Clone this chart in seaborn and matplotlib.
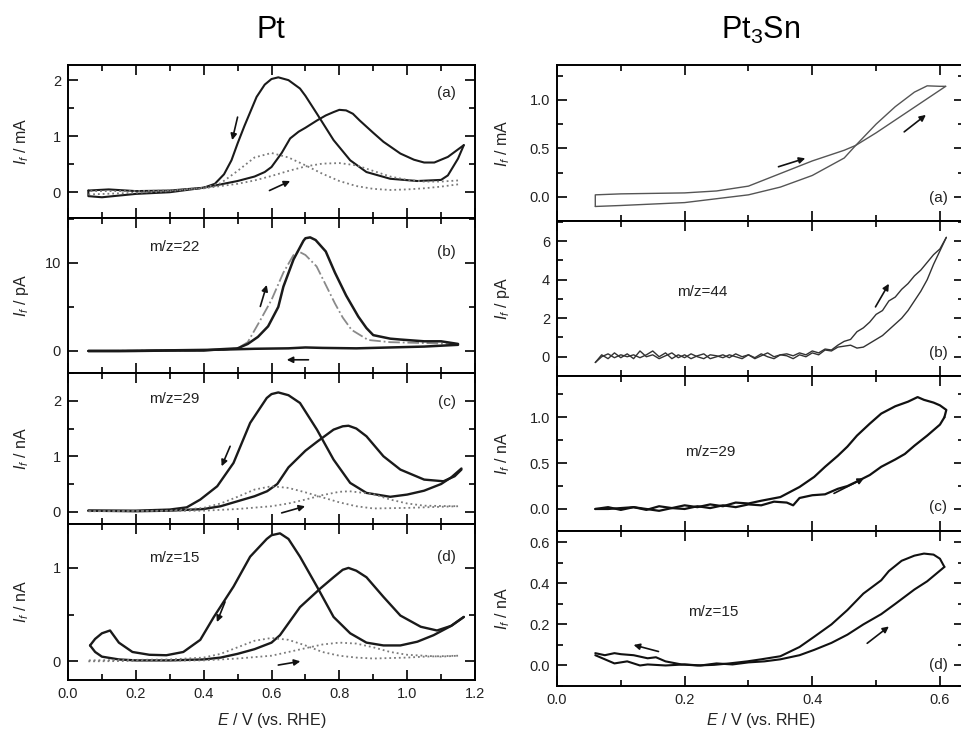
import numpy as np
import matplotlib
matplotlib.use("Agg")
import matplotlib.pyplot as plt
from matplotlib.ticker import MultipleLocator, FormatStrFormatter
import seaborn as sns

sns.set_theme(style="ticks")
plt.rcParams['font.family'] = ['Liberation Sans', 'DejaVu Sans']
plt.rcParams['mathtext.fontset'] = 'custom'
plt.rcParams['mathtext.rm'] = 'Liberation Sans'
plt.rcParams['mathtext.it'] = 'Liberation Sans:italic'

# ---------------- Pt (left column) ----------------
# (a) Faradaic current, mA
La_fwd_E = [0.06, 0.06, 0.10, 0.15, 0.20, 0.30, 0.40, 0.50, 0.55, 0.58, 0.60, 0.63, 0.655, 0.68, 0.70, 0.734, 0.76, 0.783, 0.80, 0.82, 0.84, 0.86, 0.90, 0.93, 0.98, 1.02, 1.05, 1.08, 1.12, 1.167]
La_fwd_I = [0.03, -0.07, -0.09, -0.06, -0.03, 0.00, 0.08, 0.20, 0.28, 0.36, 0.45, 0.70, 0.96, 1.08, 1.15, 1.28, 1.37, 1.43, 1.47, 1.46, 1.40, 1.28, 1.06, 0.90, 0.69, 0.58, 0.53, 0.53, 0.63, 0.84]
La_bwd_E = [1.167, 1.15, 1.12, 1.10, 1.03, 0.95, 0.88, 0.832, 0.783, 0.734, 0.70, 0.684, 0.65, 0.62, 0.60, 0.58, 0.556, 0.52, 0.50, 0.482, 0.46, 0.433, 0.40, 0.30, 0.20, 0.12, 0.06]
La_bwd_I = [0.84, 0.60, 0.30, 0.22, 0.20, 0.24, 0.36, 0.57, 0.93, 1.40, 1.72, 1.85, 2.00, 2.05, 2.02, 1.92, 1.70, 1.18, 0.87, 0.57, 0.32, 0.15, 0.08, 0.03, 0.02, 0.05, 0.03]
La_dfwd_E = [0.06, 0.20, 0.30, 0.40, 0.50, 0.55, 0.60, 0.65, 0.70, 0.75, 0.80, 0.85, 0.90, 0.95, 1.00, 1.05, 1.10, 1.15]
La_dfwd_I = [-0.04, -0.01, 0.02, 0.07, 0.15, 0.21, 0.29, 0.38, 0.46, 0.51, 0.52, 0.48, 0.38, 0.28, 0.22, 0.19, 0.19, 0.21]
La_dbwd_E = [1.15, 1.10, 1.05, 1.00, 0.95, 0.90, 0.85, 0.80, 0.75, 0.70, 0.65, 0.60, 0.55, 0.50, 0.45, 0.40, 0.30, 0.20, 0.06]
La_dbwd_I = [0.14, 0.10, 0.07, 0.05, 0.04, 0.06, 0.11, 0.20, 0.33, 0.48, 0.62, 0.70, 0.62, 0.38, 0.16, 0.08, 0.03, 0.02, 0.02]

# (b) m/z=22, pA
Lb_fwd_E = [0.06, 0.20, 0.30, 0.40, 0.45, 0.50, 0.53, 0.56, 0.59, 0.62, 0.635, 0.665, 0.694, 0.70, 0.714, 0.73, 0.76, 0.787, 0.82, 0.856, 0.88, 0.90, 0.95, 0.98, 1.05, 1.10, 1.15]
Lb_fwd_I = [0.0, 0.0, 0.05, 0.05, 0.2, 0.3, 0.8, 1.6, 2.8, 5.0, 7.3, 10.4, 12.5, 12.8, 12.9, 12.6, 11.3, 8.9, 6.3, 3.9, 2.6, 1.8, 1.4, 1.3, 1.1, 1.1, 0.8]
Lb_dfwd_E = [0.06, 0.30, 0.45, 0.50, 0.53, 0.567, 0.60, 0.635, 0.665, 0.68, 0.70, 0.733, 0.76, 0.787, 0.81, 0.836, 0.885, 0.95, 1.05, 1.15]
Lb_dfwd_I = [0.0, 0.05, 0.1, 0.3, 1.0, 3.5, 5.8, 8.9, 10.9, 11.3, 10.9, 9.6, 7.5, 5.4, 3.8, 2.4, 1.25, 1.0, 0.9, 0.8]
Lb_bwd_E = [1.15, 1.05, 0.95, 0.85, 0.75, 0.70, 0.65, 0.55, 0.45, 0.35, 0.25, 0.15, 0.06]
Lb_bwd_I = [0.7, 0.5, 0.4, 0.3, 0.35, 0.4, 0.3, 0.25, 0.15, 0.1, 0.05, 0.0, 0.0]

# (c) m/z=29, nA
Lc_fwd_E = [0.06, 0.20, 0.30, 0.40, 0.45, 0.50, 0.55, 0.587, 0.617, 0.65, 0.70, 0.734, 0.783, 0.81, 0.827, 0.85, 0.88, 0.93, 0.98, 1.05, 1.107, 1.14, 1.16]
Lc_fwd_I = [0.02, 0.01, 0.02, 0.05, 0.10, 0.19, 0.28, 0.37, 0.50, 0.80, 1.10, 1.26, 1.48, 1.54, 1.55, 1.50, 1.36, 1.00, 0.76, 0.58, 0.55, 0.64, 0.76]
Lc_bwd_E = [1.16, 1.13, 1.10, 1.05, 1.00, 0.95, 0.88, 0.832, 0.783, 0.734, 0.684, 0.65, 0.62, 0.60, 0.586, 0.537, 0.488, 0.44, 0.39, 0.35, 0.30, 0.20, 0.06]
Lc_bwd_I = [0.78, 0.62, 0.50, 0.38, 0.31, 0.27, 0.34, 0.52, 0.94, 1.48, 1.96, 2.10, 2.15, 2.12, 2.05, 1.60, 0.88, 0.46, 0.22, 0.08, 0.04, 0.02, 0.02]
Lc_dfwd_E = [0.06, 0.40, 0.50, 0.60, 0.65, 0.70, 0.75, 0.80, 0.83, 0.90, 0.95, 1.00, 1.05, 1.15]
Lc_dfwd_I = [0.01, 0.02, 0.05, 0.10, 0.15, 0.22, 0.30, 0.36, 0.37, 0.32, 0.22, 0.15, 0.11, 0.10]
Lc_dbwd_E = [1.15, 1.05, 1.00, 0.90, 0.85, 0.80, 0.75, 0.70, 0.65, 0.60, 0.55, 0.50, 0.45, 0.40, 0.30, 0.06]
Lc_dbwd_I = [0.10, 0.08, 0.07, 0.06, 0.10, 0.17, 0.26, 0.35, 0.43, 0.46, 0.40, 0.27, 0.15, 0.07, 0.02, 0.01]

# (d) m/z=15, nA
Ld_fwd_E = [0.065, 0.08, 0.10, 0.15, 0.20, 0.30, 0.40, 0.45, 0.50, 0.55, 0.60, 0.625, 0.684, 0.744, 0.783, 0.81, 0.827, 0.85, 0.88, 0.93, 0.98, 1.04, 1.088, 1.13, 1.167]
Ld_fwd_I = [0.17, 0.10, 0.05, 0.02, 0.01, 0.01, 0.02, 0.04, 0.08, 0.13, 0.20, 0.28, 0.58, 0.78, 0.90, 0.98, 1.00, 0.97, 0.90, 0.69, 0.49, 0.37, 0.33, 0.38, 0.475]
Ld_bwd_E = [1.167, 1.13, 1.078, 1.03, 0.98, 0.93, 0.88, 0.832, 0.783, 0.734, 0.684, 0.65, 0.625, 0.60, 0.586, 0.537, 0.488, 0.43, 0.39, 0.34, 0.29, 0.24, 0.19, 0.15, 0.124, 0.10, 0.08, 0.065]
Ld_bwd_I = [0.475, 0.38, 0.28, 0.21, 0.17, 0.17, 0.20, 0.30, 0.475, 0.80, 1.12, 1.31, 1.37, 1.35, 1.31, 1.12, 0.80, 0.475, 0.23, 0.10, 0.065, 0.07, 0.10, 0.20, 0.33, 0.30, 0.24, 0.17]
Ld_dfwd_E = [0.06, 0.40, 0.50, 0.60, 0.65, 0.70, 0.75, 0.80, 0.85, 0.90, 0.95, 1.00, 1.10, 1.15]
Ld_dfwd_I = [0.00, 0.01, 0.03, 0.06, 0.10, 0.14, 0.18, 0.20, 0.19, 0.15, 0.10, 0.07, 0.05, 0.06]
Ld_dbwd_E = [1.15, 1.05, 1.00, 0.90, 0.85, 0.80, 0.75, 0.70, 0.65, 0.60, 0.55, 0.50, 0.45, 0.40, 0.30, 0.06]
Ld_dbwd_I = [0.06, 0.05, 0.04, 0.03, 0.04, 0.06, 0.10, 0.17, 0.23, 0.25, 0.22, 0.15, 0.08, 0.04, 0.02, 0.01]

# ---------------- Pt3Sn (right column) ----------------
Ra_fwd_E = [0.06, 0.06, 0.10, 0.20, 0.25, 0.30, 0.35, 0.40, 0.45, 0.468, 0.50, 0.55, 0.609]
Ra_fwd_I = [-0.10, 0.02, 0.03, 0.04, 0.06, 0.11, 0.24, 0.37, 0.48, 0.53, 0.66, 0.88, 1.14]
Ra_bwd_E = [0.609, 0.60, 0.58, 0.56, 0.53, 0.50, 0.468, 0.45, 0.40, 0.35, 0.30, 0.20, 0.10, 0.06]
Ra_bwd_I = [1.14, 1.14, 1.145, 1.08, 0.93, 0.75, 0.53, 0.40, 0.22, 0.10, 0.02, -0.06, -0.09, -0.10]

Rb_fwd_E = [0.06, 0.07, 0.08, 0.09, 0.10, 0.11, 0.12, 0.13, 0.14, 0.15, 0.16, 0.17, 0.18, 0.19, 0.20, 0.21, 0.22, 0.23, 0.24, 0.25, 0.26, 0.27, 0.28, 0.29, 0.30, 0.31, 0.32, 0.33, 0.34, 0.35, 0.36, 0.37, 0.38, 0.39, 0.40, 0.41, 0.42, 0.43, 0.44, 0.45, 0.46, 0.47, 0.48, 0.49, 0.50, 0.51, 0.52, 0.53, 0.54, 0.55, 0.56, 0.57, 0.58, 0.59, 0.60, 0.61]
Rb_fwd_I = [-0.3, 0.1, -0.1, 0.2, -0.05, 0.15, -0.1, 0.3, 0.0, 0.1, -0.1, 0.05, 0.2, -0.05, 0.1, -0.1, 0.05, 0.15, -0.1, 0.0, 0.1, -0.05, 0.15, 0.0, 0.1, -0.1, 0.05, 0.2, 0.0, 0.1, 0.15, 0.05, 0.2, 0.1, 0.3, 0.2, 0.4, 0.35, 0.6, 0.8, 0.9, 1.3, 1.5, 1.8, 2.2, 2.4, 2.9, 3.1, 3.5, 3.8, 4.2, 4.5, 4.9, 5.3, 5.6, 6.2]
Rb_bwd_E = [0.61, 0.60, 0.59, 0.58, 0.57, 0.56, 0.55, 0.54, 0.53, 0.52, 0.51, 0.50, 0.49, 0.48, 0.47, 0.46, 0.45, 0.44, 0.43, 0.42, 0.41, 0.40, 0.39, 0.38, 0.37, 0.36, 0.35, 0.34, 0.33, 0.32, 0.31, 0.30, 0.29, 0.28, 0.27, 0.26, 0.25, 0.24, 0.23, 0.22, 0.21, 0.20, 0.19, 0.18, 0.17, 0.16, 0.15, 0.14, 0.13, 0.12, 0.11, 0.10, 0.09, 0.08, 0.07, 0.06]
Rb_bwd_I = [6.2, 5.5, 4.8, 4.0, 3.4, 2.9, 2.4, 2.0, 1.7, 1.4, 1.1, 0.9, 0.7, 0.5, 0.45, 0.6, 0.55, 0.5, 0.3, 0.35, 0.1, 0.2, 0.0, 0.1, -0.1, 0.05, 0.1, -0.1, 0.0, 0.15, -0.05, 0.1, -0.1, 0.0, 0.1, -0.05, 0.05, 0.1, -0.1, 0.0, 0.15, -0.05, 0.1, -0.1, 0.2, 0.0, 0.3, 0.1, -0.05, 0.1, 0.0, 0.1, -0.05, 0.15, 0.0, -0.3]

Rc_fwd_E = [0.06, 0.08, 0.10, 0.12, 0.14, 0.16, 0.18, 0.20, 0.22, 0.24, 0.26, 0.28, 0.30, 0.32, 0.34, 0.36, 0.37, 0.38, 0.40, 0.42, 0.44, 0.455, 0.47, 0.49, 0.508, 0.53, 0.545, 0.56, 0.58, 0.60, 0.607]
Rc_fwd_I = [0.00, 0.02, -0.01, 0.02, 0.00, -0.02, 0.01, 0.00, 0.03, 0.01, 0.04, 0.02, 0.05, 0.04, 0.08, 0.07, 0.04, 0.12, 0.15, 0.16, 0.22, 0.25, 0.30, 0.37, 0.46, 0.54, 0.60, 0.69, 0.80, 0.92, 1.00]
Rc_bwd_E = [0.607, 0.61, 0.60, 0.59, 0.575, 0.565, 0.55, 0.53, 0.508, 0.49, 0.47, 0.455, 0.44, 0.42, 0.403, 0.38, 0.35, 0.32, 0.30, 0.28, 0.26, 0.24, 0.22, 0.20, 0.18, 0.16, 0.14, 0.12, 0.10, 0.08, 0.06]
Rc_bwd_I = [1.00, 1.08, 1.13, 1.16, 1.19, 1.22, 1.17, 1.12, 1.04, 0.93, 0.80, 0.68, 0.58, 0.46, 0.35, 0.24, 0.13, 0.09, 0.06, 0.07, 0.03, 0.05, 0.02, 0.04, 0.01, 0.03, -0.01, 0.02, 0.01, 0.00, 0.00]

Rd_fwd_E = [0.06, 0.075, 0.09, 0.11, 0.13, 0.142, 0.17, 0.20, 0.225, 0.25, 0.275, 0.30, 0.325, 0.35, 0.38, 0.403, 0.43, 0.455, 0.48, 0.508, 0.53, 0.56, 0.58, 0.607]
Rd_fwd_I = [0.05, 0.03, 0.01, 0.02, 0.0, 0.005, 0.0, 0.005, 0.0, 0.01, 0.005, 0.015, 0.02, 0.03, 0.05, 0.076, 0.11, 0.15, 0.20, 0.25, 0.30, 0.37, 0.41, 0.48]
Rd_bwd_E = [0.607, 0.60, 0.59, 0.575, 0.56, 0.54, 0.52, 0.508, 0.48, 0.455, 0.43, 0.403, 0.38, 0.35, 0.32, 0.298, 0.27, 0.246, 0.22, 0.195, 0.17, 0.155, 0.142, 0.12, 0.10, 0.09, 0.075, 0.06]
Rd_bwd_I = [0.48, 0.52, 0.54, 0.545, 0.535, 0.51, 0.46, 0.415, 0.35, 0.27, 0.20, 0.14, 0.09, 0.045, 0.03, 0.02, 0.01, 0.003, 0.0, 0.005, 0.02, 0.04, 0.035, 0.05, 0.055, 0.06, 0.05, 0.06]

# ---------------- layout ----------------
W, H = 961, 735
fig = plt.figure(figsize=(W / 100, H / 100), dpi=100)

def add_ax(x0, x1, ytop, ybot):
    return fig.add_axes([x0 / W, 1 - ybot / H, (x1 - x0) / W, (ybot - ytop) / H])

left_bounds = [65, 218, 373, 524, 680]
right_bounds = [65, 221, 376, 531, 686]
L = [add_ax(68, 475, left_bounds[i], left_bounds[i + 1]) for i in range(4)]
R = [add_ax(557, 964, right_bounds[i], right_bounds[i + 1]) for i in range(4)]

SOLID = dict(color='#1a1a1a', linewidth=1.5)
DOT = dict(color='#7a7a7a', linewidth=1.3, linestyle=':')

def draw(ax, E, I, **kw):
    sns.lineplot(x=E, y=I, ax=ax, sort=False, estimator=None, **kw)

# Left panels
draw(L[0], La_fwd_E, La_fwd_I, **SOLID)
draw(L[0], La_bwd_E, La_bwd_I, **SOLID)
draw(L[0], La_dfwd_E, La_dfwd_I, **DOT)
draw(L[0], La_dbwd_E, La_dbwd_I, **DOT)

draw(L[1], Lb_dfwd_E, Lb_dfwd_I, color='#8a8a8a', linewidth=1.3, linestyle='-.')
draw(L[1], Lb_fwd_E, Lb_fwd_I, color='#1a1a1a', linewidth=1.8)
draw(L[1], Lb_bwd_E, Lb_bwd_I, color='#1a1a1a', linewidth=1.8)

draw(L[2], Lc_fwd_E, Lc_fwd_I, color='#1a1a1a', linewidth=1.7)
draw(L[2], Lc_bwd_E, Lc_bwd_I, color='#1a1a1a', linewidth=1.7)
draw(L[2], Lc_dfwd_E, Lc_dfwd_I, **DOT)
draw(L[2], Lc_dbwd_E, Lc_dbwd_I, **DOT)

draw(L[3], Ld_fwd_E, Ld_fwd_I, color='#1a1a1a', linewidth=1.7)
draw(L[3], Ld_bwd_E, Ld_bwd_I, color='#1a1a1a', linewidth=1.7)
draw(L[3], Ld_dfwd_E, Ld_dfwd_I, **DOT)
draw(L[3], Ld_dbwd_E, Ld_dbwd_I, **DOT)

# Right panels
draw(R[0], Ra_fwd_E, Ra_fwd_I, color='#555555', linewidth=1.0)
draw(R[0], Ra_bwd_E, Ra_bwd_I, color='#555555', linewidth=1.0)
draw(R[1], Rb_fwd_E, Rb_fwd_I, color='#333333', linewidth=1.0)
draw(R[1], Rb_bwd_E, Rb_bwd_I, color='#333333', linewidth=1.0)
draw(R[2], Rc_fwd_E, Rc_fwd_I, color='#111111', linewidth=1.6)
draw(R[2], Rc_bwd_E, Rc_bwd_I, color='#111111', linewidth=1.6)
draw(R[3], Rd_fwd_E, Rd_fwd_I, color='#111111', linewidth=1.5)
draw(R[3], Rd_bwd_E, Rd_bwd_I, color='#111111', linewidth=1.5)

# Axis settings
left_ylim = [(-0.46, 2.27), (-2.5, 15.1), (-0.22, 2.5), (-0.2, 1.47)]
left_major = [1, 10, 1, 1]
left_minor = [0.5, 5, 0.5, 0.5]
left_units = ['mA', 'pA', 'nA', 'nA']
right_ylim = [(-0.25, 1.36), (-1.0, 7.05), (-0.24, 1.45), (-0.1, 0.655)]
right_major = [0.5, 2, 0.5, 0.2]
right_minor = [0.25, 1, 0.25, 0.1]
right_fmt = ['%.1f', '%d', '%.1f', '%.1f']
right_units = ['mA', 'pA', 'nA', 'nA']

def style(ax):
    for s in ax.spines.values():
        s.set_linewidth(1.4)
        s.set_color('black')
    ax.tick_params(which='both', direction='in', top=True, right=True, colors='black',
                   labelsize=10.5, width=1.2, labelcolor='#222222')
    ax.tick_params(which='major', length=7, pad=5)
    ax.tick_params(which='minor', length=4)
    ax.set_xlabel('')
    ax.set_ylabel('')

for i, ax in enumerate(L):
    style(ax)
    ax.set_xlim(0, 1.2)
    ax.set_ylim(*left_ylim[i])
    ax.xaxis.set_major_locator(MultipleLocator(0.2))
    ax.xaxis.set_minor_locator(MultipleLocator(0.1))
    ax.xaxis.set_major_formatter(FormatStrFormatter('%.1f'))
    ax.yaxis.set_major_locator(MultipleLocator(left_major[i]))
    ax.yaxis.set_minor_locator(MultipleLocator(left_minor[i]))
    ax.yaxis.set_major_formatter(FormatStrFormatter('%d'))
    ax.set_ylabel(r'$I_f$ / ' + left_units[i], fontsize=11.5, color='#222222')
    ax.yaxis.set_label_coords(-0.092, 0.5)
    if i < 3:
        ax.tick_params(labelbottom=False)

for i, ax in enumerate(R):
    style(ax)
    ax.set_xlim(0, 0.6377)
    ax.set_ylim(*right_ylim[i])
    ax.xaxis.set_major_locator(MultipleLocator(0.2))
    ax.xaxis.set_minor_locator(MultipleLocator(0.1))
    ax.xaxis.set_major_formatter(FormatStrFormatter('%.1f'))
    ax.yaxis.set_major_locator(MultipleLocator(right_major[i]))
    ax.yaxis.set_minor_locator(MultipleLocator(right_minor[i]))
    ax.yaxis.set_major_formatter(FormatStrFormatter(right_fmt[i]))
    ax.set_ylabel(r'$I_f$ / ' + right_units[i], fontsize=11.5, color='#222222')
    ax.yaxis.set_label_coords(-0.11, 0.5)
    if i < 3:
        ax.tick_params(labelbottom=False)

L[3].set_xlabel(r'$E$ / V (vs. RHE)', fontsize=11.5, color='#222222', labelpad=7)
R[3].set_xlabel(r'$E$ / V (vs. RHE)', fontsize=11.5, color='#222222', labelpad=3)

# Panel labels
txt = dict(fontsize=11, color='#222222')
for ax, lab, y in zip(L, ['(a)', '(b)', '(c)', '(d)'], [0.82, 0.78, 0.81, 0.79]):
    ax.text(0.93, y, lab, transform=ax.transAxes, ha='center', va='center', **txt)
for ax, lab, y in zip(L[1:], ['m/z=22', 'm/z=29', 'm/z=15'], [0.81, 0.83, 0.78]):
    ax.text(0.26, y, lab, transform=ax.transAxes, ha='center', va='center', **txt)
for ax, lab, y in zip(R, ['(a)', '(b)', '(c)', '(d)'], [0.15, 0.15, 0.155, 0.135]):
    ax.text(0.936, y, lab, transform=ax.transAxes, ha='center', va='center', **txt)
for ax, lab, x, y in zip(R[1:], ['m/z=44', 'm/z=29', 'm/z=15'], [0.357, 0.377, 0.384], [0.54, 0.51, 0.48]):
    ax.text(x, y, lab, transform=ax.transAxes, ha='center', va='center', **txt)

# Arrows (scan direction)
def arrow(ax, x0, y0, x1, y1):
    ax.annotate('', xy=(x1, y1), xytext=(x0, y0),
                arrowprops=dict(arrowstyle='-|>', color='#111111', lw=1.2,
                                mutation_scale=9, shrinkA=0, shrinkB=0))

arrow(L[0], 0.50, 1.34, 0.484, 0.93)
arrow(L[0], 0.594, 0.03, 0.655, 0.20)
arrow(L[1], 0.567, 5.06, 0.586, 7.5)
arrow(L[1], 0.709, -1.0, 0.645, -1.0)
arrow(L[2], 0.478, 1.18, 0.453, 0.82)
arrow(L[2], 0.63, -0.02, 0.699, 0.10)
arrow(L[3], 0.463, 0.636, 0.439, 0.42)
arrow(L[3], 0.62, -0.04, 0.685, 0.0)
arrow(R[0], 0.347, 0.31, 0.389, 0.397)
arrow(R[0], 0.544, 0.67, 0.578, 0.845)
arrow(R[1], 0.499, 2.59, 0.52, 3.79)
arrow(R[2], 0.434, 0.17, 0.481, 0.335)
arrow(R[3], 0.486, 0.108, 0.52, 0.19)
arrow(R[3], 0.159, 0.068, 0.12, 0.10)

# Column titles
fig.text(271 / W, 1 - 30 / H, 'Pt', fontsize=22, ha='center', va='center', color='black')
fig.text(761 / W, 1 - 30 / H, r'Pt$_3$Sn', fontsize=22, ha='center', va='center', color='black')

fig.savefig('out.png', dpi=100)
